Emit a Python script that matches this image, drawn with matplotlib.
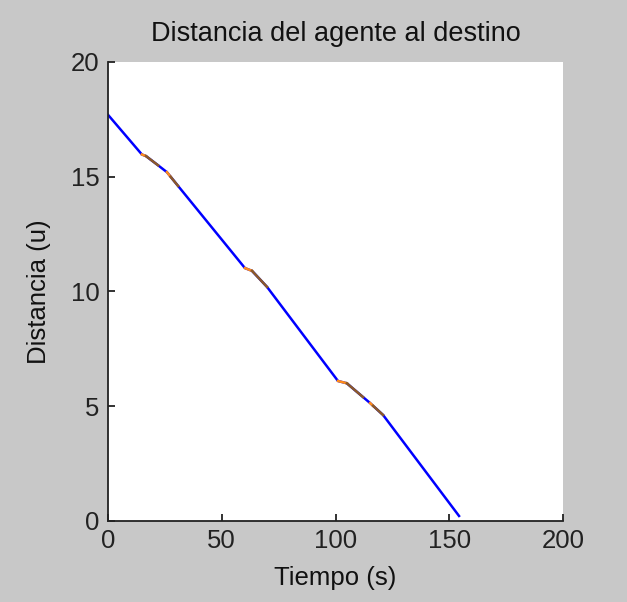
import numpy as np
from matplotlib import pyplot as plt

plt.rcParams['font.family'] = ['Liberation Sans', 'DejaVu Sans']

# trayectoria completa (azul)
tiempo = [0, 14.9, 16.7, 22.0, 25.9, 30.8, 60.2, 63.3, 69.9,
          101.1, 105.0, 112.1, 115.2, 120.9, 154.3]
distancia = [17.7, 15.97, 15.9, 15.5, 15.2, 14.6, 11.02, 10.9, 10.2,
             6.1, 6.0, 5.4, 5.14, 4.62, 0.22]

# tramos de maniobra (naranja / marron)
t_naranja = [14.9, 16.7, np.nan, 25.9, 27.5, np.nan, 60.2, 63.3, np.nan,
             101.1, 105.0, np.nan, 115.2, 116.5]
d_naranja = [15.97, 15.9, np.nan, 15.2, 15.0, np.nan, 11.02, 10.9, np.nan,
             6.1, 6.0, np.nan, 5.14, 5.02]
t_marron = [16.7, 22.0, np.nan, 27.5, 30.8, np.nan, 63.3, 69.9, np.nan,
            105.0, 112.1, np.nan, 116.5, 120.9]
d_marron = [15.9, 15.5, np.nan, 15.0, 14.6, np.nan, 10.9, 10.2, np.nan,
            6.0, 5.4, np.nan, 5.02, 4.62]

fig = plt.figure(figsize=(6.27, 6.02), dpi=100, facecolor='#c8c8c8')
ax = fig.add_axes([108 / 627, 81 / 602, 455 / 627, 459 / 602])
ax.set_facecolor('white')

ax.plot(tiempo, distancia, color='#0000ff', lw=1.8)
ax.plot(t_naranja, d_naranja, color='#ff8c1a', lw=1.8)
ax.plot(t_marron, d_marron, color='#8c5a28', lw=1.8)

ax.set_xlim(0, 200)
ax.set_ylim(0, 20)
ax.set_xticks([0, 50, 100, 150, 200])
ax.set_yticks([0, 5, 10, 15, 20])

for side in ['top', 'right']:
    ax.spines[side].set_visible(False)
for side in ['left', 'bottom']:
    ax.spines[side].set_linewidth(1.3)
    ax.spines[side].set_color('#222222')

ax.tick_params(direction='in', length=5, width=1.3, labelsize=18.5,
               colors='#222222', pad=6)

ax.set_title('Distancia del agente al destino', fontsize=19.5, pad=15, color='#111111')
ax.set_xlabel('Tiempo (s)', fontsize=18.5, labelpad=9, color='#111111')
ax.set_ylabel('Distancia (u)', fontsize=18.5, labelpad=14, color='#111111')

fig.savefig('out.png', dpi=100, facecolor=fig.get_facecolor())
